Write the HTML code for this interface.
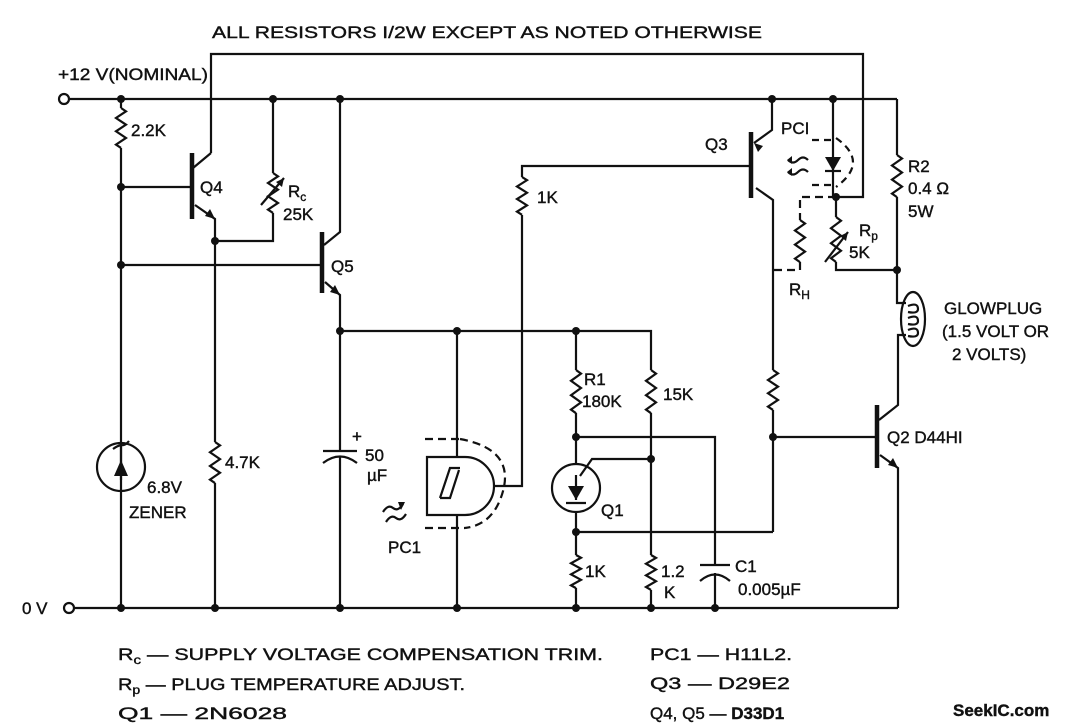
<!DOCTYPE html>
<html><head><meta charset="utf-8"><style>
html,body{margin:0;padding:0;background:#fff;}
svg{display:block}
text{font-family:"Liberation Sans",sans-serif;fill:#111;font-size:17px;stroke:#111;stroke-width:0.4}
</style></head><body>
<svg width="1072" height="728" viewBox="0 0 1072 728" xmlns="http://www.w3.org/2000/svg">
<defs>
<path id="r" d="M0 0 l5 3 l-10 6 l10 6 l-10 6 l10 6 l-10 6 l5 3" fill="none" stroke="#111" stroke-width="2.2" vector-effect="non-scaling-stroke"/>
</defs>
<g fill="none" stroke="#111" stroke-width="2.2">
<path d="M69 99 H897"/>
<path d="M74 608 H898"/>
<circle cx="64" cy="99" r="5" fill="#fff"/>
<circle cx="69" cy="608" r="5" fill="#fff"/>
<path d="M211 153 V54 H863 V197 H836"/>
<path d="M121 99 V108 M121 148 V608"/>
<path d="M121 187 H192 M193 168 L211 153 M195 205 L215 219 V442 M215 483 V608"/>
<path d="M273 99 V173 M273 213 V241 H215"/>
<path d="M340 99 V232 L324 245 M121 265 H322 M325 282 L340 295 V451 M340 457 V608"/>
<path d="M323 451 H357 M323 463 Q340 450 357 463"/>
<path d="M340 331 H651 V370 M651 413 V555 M651 590 V608"/>
<path d="M457 331 V457 M457 515 V608"/>
<path d="M576 331 V370 M576 413 V464 M576 512 V555 M576 588 V608"/>
<path d="M576 437 H715 V565 M700 565 H730 M700 581 Q715 568 730 581 M715 573 V608"/>
<path d="M651 459 H592 L580 476"/>
<path d="M576 532 H773"/>
<path d="M495 486 H522 V215 M522 177 V166 H751"/>
<path d="M754 143 L772 130 V99 M756 188 L773 200 V370 M773 410 V532 M773 437 H877"/>
<path d="M879 420 L898 405 V335 H906 M880 455 L898 468 V608"/>
<path d="M833 99 V197"/>
<path d="M897 99 V155 M897 197 V303 H906"/>
<path d="M836 197 V217 M836 262 V270 H897"/>
<path d="M825 262 L848 232"/>
<path d="M836 197 H800 V220 M800 262 V270 H773" stroke-dasharray="8 5"/>
<path d="M812 140 H833 M812 185 H833 M836 138 Q870 162 836 187" stroke-dasharray="7 5"/>
<path d="M425 439 H460 M425 528 H465 M460 439 Q520 450 500 500 Q490 525 465 528" stroke-dasharray="8 5"/>
<path d="M427 457 H465 A29 29 0 0 1 465 515 H427 Z" fill="#fff"/>
<path d="M440 498 L450 468 H460 M440 498 H450 L459 470"/>
<circle cx="121" cy="467" r="24"/>
<circle cx="576" cy="488" r="24"/>
<ellipse cx="913" cy="319" rx="12" ry="27"/>
<path d="M908 306 q10 -4 10 3 q0 5 -10 3 M908 318 q10 -4 10 3 q0 5 -10 3 M908 330 q10 -4 10 3 q0 5 -10 3"/>
<path d="M383 512 q5 -8 10 -4 q5 4 10 -4 M386 522 q5 -8 10 -4 q5 4 10 -4"/>
<path d="M808 160 q-5 -5 -10 0 q-5 5 -10 0 M808 172 q-5 -5 -10 0 q-5 5 -10 0"/>
<path d="M121 480 V445 M113 449 q4 -3 8 -4 q4 1 8 -4"/>
<path d="M576 475 V500 M566 503 H586"/>
<path d="M825 171 H841"/>
</g>
<g stroke="#111" stroke-width="4.5">
<path d="M192 153 V219 M322 232 V293 M751 132 V198 M877 405 V468"/>
</g>
<g fill="#111" stroke="none">
<path d="M215 219 l-10 -3 l5 -7 Z"/>
<path d="M340 295 l-10 -3 l5 -7 Z"/>
<path d="M898 468 l-10 -3 l5 -7 Z"/>
<path d="M754 143 l4 9 l5 -6 Z"/>
<path d="M848 232 l-2 9 l-6 -5 Z"/>
<path d="M284 178 l-2 9 l-6 -5 Z"/>
<path d="M825 157 H841 L833 171 Z"/>
<path d="M114 476 H128 L121 460 Z"/>
<path d="M568 486 H584 L576 500 Z"/>
<path d="M405 502 l-7 0 l3 8 Z M787 160 l5 -4 l0 8 Z M787 172 l5 -4 l0 8 Z"/>
</g>
<g stroke="#111" stroke-width="2.2"><path d="M261 205 L284 178"/></g>
<use href="#r" transform="translate(121 108) scale(1 1.11)"/>
<use href="#r" transform="translate(273 173) scale(1 1.11)"/>
<use href="#r" transform="translate(522 177) scale(1 1.05)"/>
<use href="#r" transform="translate(897 155) scale(1 1.17)"/>
<use href="#r" transform="translate(800 220) scale(1 1.17)"/>
<use href="#r" transform="translate(836 217) scale(1 1.25)"/>
<use href="#r" transform="translate(576 370) scale(1 1.2)"/>
<use href="#r" transform="translate(651 370) scale(1 1.2)"/>
<use href="#r" transform="translate(773 370) scale(1 1.11)"/>
<use href="#r" transform="translate(215 442) scale(1 1.14)"/>
<use href="#r" transform="translate(576 555) scale(1 0.92)"/>
<use href="#r" transform="translate(651 555) scale(1 0.97)"/>
<g fill="#111">
<circle cx="121" cy="99" r="4"/><circle cx="273" cy="99" r="4"/><circle cx="340" cy="99" r="4"/>
<circle cx="772" cy="99" r="4"/><circle cx="833" cy="99" r="4"/><circle cx="121" cy="187" r="4"/>
<circle cx="121" cy="265" r="4"/><circle cx="215" cy="241" r="4"/><circle cx="340" cy="331" r="4"/>
<circle cx="457" cy="331" r="4"/><circle cx="576" cy="331" r="4"/><circle cx="836" cy="197" r="4"/>
<circle cx="897" cy="270" r="4"/><circle cx="576" cy="437" r="4"/><circle cx="651" cy="459" r="4"/>
<circle cx="576" cy="532" r="4"/><circle cx="773" cy="437" r="4"/><circle cx="121" cy="608" r="4"/>
<circle cx="215" cy="608" r="4"/><circle cx="340" cy="608" r="4"/><circle cx="457" cy="608" r="4"/>
<circle cx="576" cy="608" r="4"/><circle cx="651" cy="608" r="4"/><circle cx="715" cy="608" r="4"/>
</g>
<text x="212" y="38" textLength="550" lengthAdjust="spacingAndGlyphs" font-size="18">ALL RESISTORS I/2W EXCEPT AS NOTED OTHERWISE</text>
<text x="58" y="80" textLength="150" lengthAdjust="spacingAndGlyphs">+12 V(NOMINAL)</text>
<text x="131" y="136">2.2K</text>
<text x="200" y="193">Q4</text>
<text x="288" y="197">R<tspan font-size="12" dy="4">c</tspan></text>
<text x="283" y="220">25K</text>
<text x="331" y="272">Q5</text>
<text x="537" y="203">1K</text>
<text x="705" y="150">Q3</text>
<text x="781" y="134">PCI</text>
<text x="908" y="172">R2</text>
<text x="908" y="194">0.4 Ω</text>
<text x="908" y="217">5W</text>
<text x="859" y="236">R<tspan font-size="12" dy="4">p</tspan></text>
<text x="849" y="258">5K</text>
<text x="789" y="295">R<tspan font-size="12" dy="4">H</tspan></text>
<text x="944" y="314">GLOWPLUG</text>
<text x="942" y="337">(1.5 VOLT OR</text>
<text x="952" y="360">2 VOLTS)</text>
<text x="584" y="385">R1</text>
<text x="582" y="407">180K</text>
<text x="663" y="400">15K</text>
<text x="887" y="443">Q2 D44HI</text>
<text x="601" y="516">Q1</text>
<text x="585" y="577">1K</text>
<text x="661" y="577">1.2</text>
<text x="664" y="598">K</text>
<text x="735" y="572">C1</text>
<text x="738" y="595">0.005µF</text>
<text x="147" y="493">6.8V</text>
<text x="129" y="518">ZENER</text>
<text x="225" y="468">4.7K</text>
<text x="352" y="442" font-size="14">+</text>
<text x="365" y="461">50</text>
<text x="367" y="481">µF</text>
<text x="388" y="553">PC1</text>
<text x="22" y="614">0 V</text>
<text x="118" y="660" textLength="485" lengthAdjust="spacingAndGlyphs">R<tspan font-size="12" dy="4">c</tspan><tspan dy="-4"> — SUPPLY VOLTAGE COMPENSATION TRIM.</tspan></text>
<text x="118" y="690" textLength="347" lengthAdjust="spacingAndGlyphs">R<tspan font-size="12" dy="4">p</tspan><tspan dy="-4"> — PLUG TEMPERATURE ADJUST.</tspan></text>
<text x="118" y="719" textLength="169" lengthAdjust="spacingAndGlyphs">Q1 — 2N6028</text>
<text x="650" y="660" textLength="142" lengthAdjust="spacingAndGlyphs">PC1 — H11L2.</text>
<text x="650" y="689" textLength="140" lengthAdjust="spacingAndGlyphs">Q3 — D29E2</text>
<text x="650" y="719">Q4, Q5 — <tspan font-weight="bold">D33D1</tspan></text>
<text x="953" y="716" font-weight="bold" font-size="15">SeekIC.com</text>
</svg>
</body></html>
